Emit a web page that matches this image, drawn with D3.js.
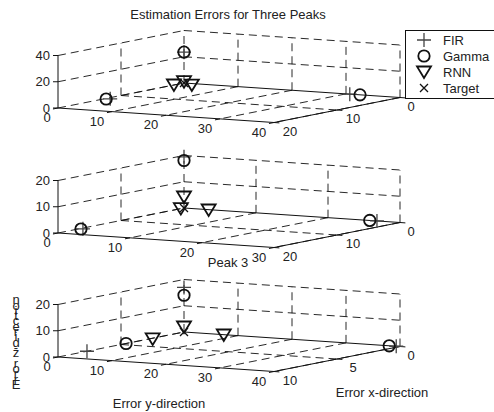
<!DOCTYPE html>
<html>
<head>
<meta charset="utf-8">
<style>
	html, body { margin: 0; padding: 0; background: white; }
	svg { display: block; }
	text { font-family: "Liberation Sans", Arial, sans-serif; font-size: 13px; fill: #222; }
	.grid { stroke: #111; stroke-width: 0.9; stroke-dasharray: 8 5; fill: none; }
	.axis { stroke: #111; stroke-width: 1; fill: none; }
	.mark { fill: none; stroke: #111; stroke-width: 1.8; }
	.plus { fill: none; stroke: #444; stroke-width: 1.3; }
</style>
<script src="https://d3js.org/d3.v7.min.js"></script>
</head>
<body>
<script>

// DATA, points are [x error, y error, z error]
var firPeak1 = [[12.4, 0.8, 0], [0, 0, 23.5], [0, 30.7, 0]],
	gammaPeak1 = [[12.7, 0.4, 0], [0, 0, 23.5], [0, 32.6, 0]],
	rnnPeak1 = [[1.6, 0, 0], [0, 0, 1], [0.9, 2.5, 0]],
	targetPeak1 = [[0, 0, 0]];

var firPeak2 = [[16.5, 0.4, 0], [0, 0, 19.5], [0, 26.8, 0]],
	gammaPeak2 = [[16.7, 0.3, 0], [0, 0, 18.1], [0, 25.8, 0]],
	rnnPeak2 = [[0.5, 0, 0], [0, 0, 4.2], [0.2, 3.6, 0]],
	targetPeak2 = [[0, 0, 0]];

var firPeak3 = [[7.7, 0, 0], [0, 0, 17], [0, 39.3, 0]],
	gammaPeak3 = [[4.6, 0, 0], [0, 0, 14], [0, 38, 0]],
	rnnPeak3 = [[2.7, 0.5, 0], [0, 0, 1.9], [0.1, 7.6, 0]],
	targetPeak3 = [[0, 0, 0]];

var xTicks1 = [0, 10, 20], yTicks1 = [0, 10, 20, 30, 40], zTicks1 = [0, 20, 40];
var xTicks2 = [0, 10, 20], yTicks2 = [0, 10, 20, 30], zTicks2 = [0, 10, 20];
var xTicks3 = [0, 5, 10], yTicks3 = [0, 10, 20, 30, 40], zTicks3 = [0, 10, 20];

var legendNames = ['FIR', 'Gamma', 'RNN', 'Target'];

// SETUP
var svg = d3.select('body').append('svg').attr('width', 494).attr('height', 412);

var panels = [
	{ top: 83, xTicks: xTicks1, yTicks: yTicks1, zTicks: zTicks1, fir: firPeak1, gamma: gammaPeak1, rnn: rnnPeak1, target: targetPeak1 },
	{ top: 208, xTicks: xTicks2, yTicks: yTicks2, zTicks: zTicks2, fir: firPeak2, gamma: gammaPeak2, rnn: rnnPeak2, target: targetPeak2 },
	{ top: 332, xTicks: xTicks3, yTicks: yTicks3, zTicks: zTicks3, fir: firPeak3, gamma: gammaPeak3, rnn: rnnPeak3, target: targetPeak3 }
];

// marker shapes, all drawn around 0,0
function drawMarker(g, type) {
	if (type == 'fir') {
		g.append('path').attr('class', 'plus').attr('d', 'M-7,0H7M0,-7V7');
	} else if (type == 'gamma') {
		g.append('circle').attr('class', 'mark').attr('r', 5.7);
	} else if (type == 'rnn') {
		g.append('path').attr('class', 'mark').attr('d', 'M-7,-5.5H7L0,6Z');
	} else {
		g.append('path').attr('class', 'mark').style('stroke-width', 1.3).attr('d', 'M-4,-4L4,4M-4,4L4,-4');
	}
}

function drawPanel(p) {
	var xMax = d3.max(p.xTicks), yMax = d3.max(p.yTicks), zMax = d3.max(p.zTicks);

	// oblique view: each data axis moves the point along its own screen direction
	var xToX = d3.scaleLinear().domain([0, xMax]).range([0, -126]),
		xToY = d3.scaleLinear().domain([0, xMax]).range([0, 25]),
		yToX = d3.scaleLinear().domain([0, yMax]).range([0, 216]),
		yToY = d3.scaleLinear().domain([0, yMax]).range([0, 14.5]),
		zToY = d3.scaleLinear().domain([0, zMax]).range([0, -52.5]);

	function px(x, y) { return 184 + xToX(x) + yToX(y); }
	function py(x, y, z) { return p.top + xToY(x) + yToY(y) + zToY(z); }

	var g = svg.append('g');

	function seg(cls, a, b) {
		g.append('line').attr('class', cls)
			.attr('x1', px(a[0], a[1])).attr('y1', py(a[0], a[1], a[2]))
			.attr('x2', px(b[0], b[1])).attr('y2', py(b[0], b[1], b[2]));
	}

	// grid on floor and both walls
	p.yTicks.forEach(function(t) {
		if (t > 0) seg('grid', [0, t, 0], [xMax, t, 0]);
		seg('grid', [0, t, 0], [0, t, zMax]);
	});
	p.xTicks.forEach(function(t) {
		if (t > 0 && t < xMax) {
			seg('grid', [t, 0, 0], [t, yMax, 0]);
			seg('grid', [t, 0, 0], [t, 0, zMax]);
		}
		if (t > 0) seg('grid', [t, 0, 0], [0, 0, 0]);
	});
	p.zTicks.forEach(function(t) {
		if (t > 0) {
			seg('grid', [0, 0, t], [0, yMax, t]);
			seg('grid', [xMax, 0, t], [0, 0, t]);
		}
	});

	// axis lines
	seg('axis', [xMax, 0, 0], [xMax, yMax, 0]);
	seg('axis', [xMax, yMax, 0], [0, yMax, 0]);
	seg('axis', [xMax, 0, 0], [xMax, 0, zMax]);
	seg('axis', [0, 0, 0], [0, yMax, 0]);

	// ticks and labels
	var xStep = xToX(xMax) / 25, yStep = yToX(yMax) / 40;
	p.yTicks.forEach(function(t) {
		var x0 = px(xMax, t), y0 = py(xMax, t, 0);
		g.append('line').attr('class', 'axis').attr('x1', x0).attr('y1', y0).attr('x2', x0 + xStep).attr('y2', y0 + 1);
		g.append('text').attr('x', x0 - (t == 0 ? 11 : 15)).attr('y', y0 + 14).attr('text-anchor', 'middle').text(t);
	});
	p.xTicks.forEach(function(t) {
		var x0 = px(t, yMax), y0 = py(t, yMax, 0);
		g.append('line').attr('class', 'axis').attr('x1', x0).attr('y1', y0).attr('x2', x0 + yStep).attr('y2', y0 + 0.4);
		g.append('text').attr('x', x0 + (t == 0 ? 11 : 16)).attr('y', y0 + 13).attr('text-anchor', 'middle').text(t);
	});
	p.zTicks.forEach(function(t) {
		var x0 = px(xMax, 0), y0 = py(xMax, 0, t);
		g.append('line').attr('class', 'axis').attr('x1', x0).attr('y1', y0).attr('x2', x0 - 5).attr('y2', y0);
		g.append('text').attr('x', x0 - 8).attr('y', y0 + 4.5).attr('text-anchor', 'end').text(t);
	});

	// markers
	['fir', 'gamma', 'rnn', 'target'].forEach(function(type) {
		p[type].forEach(function(d) {
			var m = g.append('g').attr('transform', 'translate(' + px(d[0], d[1]) + ',' + py(d[0], d[1], d[2]) + ')');
			drawMarker(m, type);
		});
	});
}

panels.forEach(drawPanel);

// LABELS
svg.append('text').attr('x', 228).attr('y', 19).attr('text-anchor', 'middle').text('Estimation Errors for Three Peaks');
svg.append('text').attr('x', 228).attr('y', 267).attr('text-anchor', 'middle').text('Peak 3');
svg.append('text').attr('x', 159).attr('y', 408).attr('text-anchor', 'middle').text('Error y-direction');
svg.append('text').attr('x', 382).attr('y', 397).attr('text-anchor', 'middle').text('Error x-direction');

// the stacked z label, upright letters squeezed together
var zLabel = 'Error z-direction'.split('');
svg.selectAll('.zletter')
	.data(zLabel)
	.enter().append('text')
	.attr('class', 'zletter')
	.attr('x', 16)
	.attr('y', function(d, i) { return 389 - i * 5.3; })
	.attr('text-anchor', 'middle')
	.text(function(d) { return d; });

// LEGEND
var legend = svg.append('g');
legend.append('rect')
	.attr('x', 405.5).attr('y', 30.5).attr('width', 89).attr('height', 68)
	.attr('fill', 'white').attr('stroke', '#111').attr('stroke-width', 1);

var legendY = d3.scalePoint().domain(legendNames).range([40, 88]);
var legendTypes = ['fir', 'gamma', 'rnn', 'target'];

legendNames.forEach(function(name, i) {
	var m = legend.append('g').attr('transform', 'translate(424,' + legendY(name) + ')');
	drawMarker(m, legendTypes[i]);
	legend.append('text').attr('x', 443).attr('y', legendY(name) + 4.5).text(name);
});

</script>
</body>
</html>
